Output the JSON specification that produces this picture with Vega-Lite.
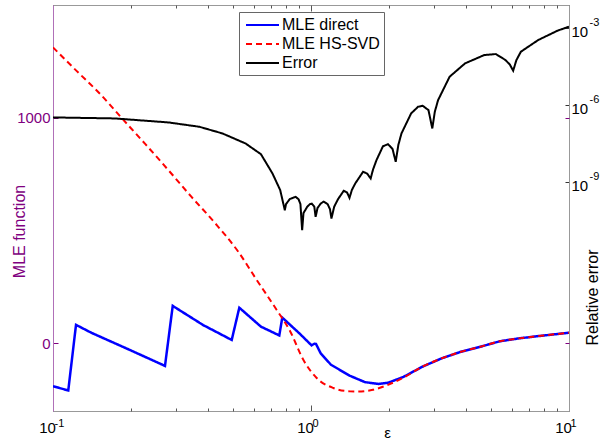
{
  "$schema": "https://vega.github.io/schema/vega-lite/v6.json",
  "autosize": {"type": "none"},
  "padding": {"left": 53, "top": 5, "right": 34, "bottom": 34},
  "width": 516,
  "height": 406,
  "background": "white",
  "config": {
    "font": "Liberation Sans",
    "view": {"stroke": "#999", "strokeWidth": 1},
    "axis": {
      "grid": false,
      "labelFont": "Liberation Sans",
      "titleFont": "Liberation Sans",
      "labelFontSize": 15,
      "titleFontSize": 16,
      "titleFontWeight": "normal",
      "labelColor": "black",
      "titleColor": "black",
      "tickColor": "#555",
      "domainColor": "#999"
    }
  },
  "datasets": {
    "direct": [
      {"eps": 0.1, "value": -190, "series": "MLE direct"},
      {"eps": 0.1146, "value": -209, "series": "MLE direct"},
      {"eps": 0.1228, "value": 82, "series": "MLE direct"},
      {"eps": 0.1413, "value": 46, "series": "MLE direct"},
      {"eps": 0.1921, "value": -22, "series": "MLE direct"},
      {"eps": 0.2717, "value": -100, "series": "MLE direct"},
      {"eps": 0.2911, "value": 166, "series": "MLE direct"},
      {"eps": 0.382, "value": 81, "series": "MLE direct"},
      {"eps": 0.4928, "value": 15, "series": "MLE direct"},
      {"eps": 0.5274, "value": 158, "series": "MLE direct"},
      {"eps": 0.6397, "value": 74, "series": "MLE direct"},
      {"eps": 0.7536, "value": 35, "series": "MLE direct"},
      {"eps": 0.7739, "value": 114, "series": "MLE direct"},
      {"eps": 0.902, "value": 44, "series": "MLE direct"},
      {"eps": 1.005, "value": -9, "series": "MLE direct"},
      {"eps": 1.03, "value": -2, "series": "MLE direct"},
      {"eps": 1.046, "value": -3, "series": "MLE direct"},
      {"eps": 1.09, "value": -44, "series": "MLE direct"},
      {"eps": 1.195, "value": -95, "series": "MLE direct"},
      {"eps": 1.416, "value": -144, "series": "MLE direct"},
      {"eps": 1.618, "value": -172, "series": "MLE direct"},
      {"eps": 1.825, "value": -180, "series": "MLE direct"},
      {"eps": 1.988, "value": -175, "series": "MLE direct"},
      {"eps": 2.281, "value": -149, "series": "MLE direct"},
      {"eps": 2.709, "value": -103, "series": "MLE direct"},
      {"eps": 3.218, "value": -66, "series": "MLE direct"},
      {"eps": 3.821, "value": -37, "series": "MLE direct"},
      {"eps": 4.537, "value": -15, "series": "MLE direct"},
      {"eps": 5.387, "value": 9, "series": "MLE direct"},
      {"eps": 6.397, "value": 22, "series": "MLE direct"},
      {"eps": 7.597, "value": 32, "series": "MLE direct"},
      {"eps": 10, "value": 47, "series": "MLE direct"}
    ],
    "hssvd": [
      {"eps": 0.1, "value": 1312, "series": "MLE HS-SVD"},
      {"eps": 0.1231, "value": 1209, "series": "MLE HS-SVD"},
      {"eps": 0.151, "value": 1110, "series": "MLE HS-SVD"},
      {"eps": 0.1856, "value": 996, "series": "MLE HS-SVD"},
      {"eps": 0.2281, "value": 883, "series": "MLE HS-SVD"},
      {"eps": 0.2804, "value": 767, "series": "MLE HS-SVD"},
      {"eps": 0.3443, "value": 649, "series": "MLE HS-SVD"},
      {"eps": 0.4233, "value": 535, "series": "MLE HS-SVD"},
      {"eps": 0.5226, "value": 406, "series": "MLE HS-SVD"},
      {"eps": 0.616, "value": 281, "series": "MLE HS-SVD"},
      {"eps": 0.7365, "value": 148, "series": "MLE HS-SVD"},
      {"eps": 0.8291, "value": 55, "series": "MLE HS-SVD"},
      {"eps": 0.9337, "value": -73, "series": "MLE HS-SVD"},
      {"eps": 1.052, "value": -154, "series": "MLE HS-SVD"},
      {"eps": 1.22, "value": -198, "series": "MLE HS-SVD"},
      {"eps": 1.416, "value": -213, "series": "MLE HS-SVD"},
      {"eps": 1.511, "value": -214, "series": "MLE HS-SVD"},
      {"eps": 1.737, "value": -206, "series": "MLE HS-SVD"},
      {"eps": 1.988, "value": -184, "series": "MLE HS-SVD"},
      {"eps": 2.281, "value": -152, "series": "MLE HS-SVD"},
      {"eps": 2.709, "value": -103, "series": "MLE HS-SVD"},
      {"eps": 3.218, "value": -66, "series": "MLE HS-SVD"},
      {"eps": 3.821, "value": -37, "series": "MLE HS-SVD"},
      {"eps": 4.537, "value": -15, "series": "MLE HS-SVD"},
      {"eps": 5.387, "value": 9, "series": "MLE HS-SVD"},
      {"eps": 6.397, "value": 22, "series": "MLE HS-SVD"},
      {"eps": 7.597, "value": 32, "series": "MLE HS-SVD"},
      {"eps": 10, "value": 47, "series": "MLE HS-SVD"}
    ],
    "err": [
      {"eps": 0.1, "err": 3.35e-7, "series": "Error"},
      {"eps": 0.1733, "err": 3.062e-7, "series": "Error"},
      {"eps": 0.2804, "err": 2.138e-7, "series": "Error"},
      {"eps": 0.3691, "err": 1.449e-7, "series": "Error"},
      {"eps": 0.4535, "err": 7.98e-8, "series": "Error"},
      {"eps": 0.5575, "err": 3.25e-8, "series": "Error"},
      {"eps": 0.6397, "err": 1.239e-8, "series": "Error"},
      {"eps": 0.7091, "err": 2.208e-9, "series": "Error"},
      {"eps": 0.7598, "err": 4.943e-10, "series": "Error"},
      {"eps": 0.7916, "err": 8.22e-11, "series": "Error"},
      {"eps": 0.8, "err": 1.413e-10, "series": "Error"},
      {"eps": 0.8278, "err": 2.239e-10, "series": "Error"},
      {"eps": 0.8715, "err": 2.723e-10, "series": "Error"},
      {"eps": 0.895, "err": 2.188e-10, "series": "Error"},
      {"eps": 0.91, "err": 1.413e-10, "series": "Error"},
      {"eps": 0.924, "err": 1.368e-11, "series": "Error"},
      {"eps": 0.935, "err": 6.31e-11, "series": "Error"},
      {"eps": 0.9663, "err": 1.109e-10, "series": "Error"},
      {"eps": 0.99, "err": 1.413e-10, "series": "Error"},
      {"eps": 1.007, "err": 1.479e-10, "series": "Error"},
      {"eps": 1.03, "err": 1.122e-10, "series": "Error"},
      {"eps": 1.042, "err": 4.529e-11, "series": "Error"},
      {"eps": 1.06, "err": 1.0e-10, "series": "Error"},
      {"eps": 1.09, "err": 1.479e-10, "series": "Error"},
      {"eps": 1.12, "err": 1.778e-10, "series": "Error"},
      {"eps": 1.16, "err": 1.413e-10, "series": "Error"},
      {"eps": 1.185, "err": 8.913e-11, "series": "Error"},
      {"eps": 1.2, "err": 3.899e-11, "series": "Error"},
      {"eps": 1.23, "err": 1.122e-10, "series": "Error"},
      {"eps": 1.272, "err": 2.188e-10, "series": "Error"},
      {"eps": 1.339, "err": 4.677e-10, "series": "Error"},
      {"eps": 1.38, "err": 3.981e-10, "series": "Error"},
      {"eps": 1.41, "err": 2.489e-10, "series": "Error"},
      {"eps": 1.44, "err": 5.012e-10, "series": "Error"},
      {"eps": 1.484, "err": 8.995e-10, "series": "Error"},
      {"eps": 1.591, "err": 2.559e-9, "series": "Error"},
      {"eps": 1.65, "err": 2.188e-9, "series": "Error"},
      {"eps": 1.703, "err": 1.409e-9, "series": "Error"},
      {"eps": 1.74, "err": 3.162e-9, "series": "Error"},
      {"eps": 1.794, "err": 7.295e-9, "series": "Error"},
      {"eps": 1.9, "err": 2.512e-8, "series": "Error"},
      {"eps": 1.988, "err": 3.062e-8, "series": "Error"},
      {"eps": 2.07, "err": 1.995e-8, "series": "Error"},
      {"eps": 2.13, "err": 6.281e-9, "series": "Error"},
      {"eps": 2.18, "err": 2.818e-8, "series": "Error"},
      {"eps": 2.242, "err": 7.98e-8, "series": "Error"},
      {"eps": 2.444, "err": 4.797e-7, "series": "Error"},
      {"eps": 2.6, "err": 8.71e-7, "series": "Error"},
      {"eps": 2.709, "err": 9.528e-7, "series": "Error"},
      {"eps": 2.853, "err": 6.457e-7, "series": "Error"},
      {"eps": 2.952, "err": 1.247e-7, "series": "Error"},
      {"eps": 3.02, "err": 5.623e-7, "series": "Error"},
      {"eps": 3.109, "err": 1.585e-6, "series": "Error"},
      {"eps": 3.446, "err": 1.285e-5, "series": "Error"},
      {"eps": 3.954, "err": 4.246e-5, "series": "Error"},
      {"eps": 4.695, "err": 8.974e-5, "series": "Error"},
      {"eps": 5.204, "err": 9.817e-5, "series": "Error"},
      {"eps": 5.672, "err": 5.728e-5, "series": "Error"},
      {"eps": 5.9, "err": 3.802e-5, "series": "Error"},
      {"eps": 6.076, "err": 2.198e-5, "series": "Error"},
      {"eps": 6.25, "err": 5.623e-5, "series": "Error"},
      {"eps": 6.508, "err": 1.208e-4, "series": "Error"},
      {"eps": 7.597, "err": 3.443e-4, "series": "Error"},
      {"eps": 9.02, "err": 7.943e-4, "series": "Error"},
      {"eps": 10, "err": 1.138e-3, "series": "Error"}
    ]
  },
  "layer": [
    {
      "data": {"name": "direct"},
      "mark": {"type": "line", "strokeWidth": 2.5, "clip": true},
      "encoding": {
        "x": {
          "field": "eps", "type": "quantitative",
          "scale": {"type": "log", "domain": [0.1, 10], "nice": false},
          "axis": {
            "orient": "bottom", "values": [0.1, 1, 10],
            "labelExpr": "'10'", "labelOffset": -6,
            "tickSize": -6, "labelPadding": 15, "labelFlush": false,
            "title": "ε", "titleX": 334, "titleY": 26, "titleAlign": "center",
            "titleBaseline": "alphabetic", "titleFontSize": 15
          }
        },
        "y": {
          "field": "value", "type": "quantitative",
          "scale": {"domain": [-300, 1500], "nice": false, "zero": false},
          "axis": {
            "orient": "left", "values": [0, 1000], "format": "d",
            "tickSize": -5, "labelPadding": 8, "tickColor": "#800080",
            "labelColor": "#800080", "domainColor": "#b070b8",
            "title": "MLE function", "titleColor": "#800080",
            "titleAngle": 270, "titleX": -34, "titleY": 226,
            "titleAlign": "center", "titleBaseline": "middle"
          }
        },
        "color": {
          "field": "series", "type": "nominal",
          "scale": {"domain": ["MLE direct", "MLE HS-SVD", "Error"], "range": ["#0000ff", "#ff0000", "#000000"]},
          "legend": {
            "orient": "none", "legendX": 186, "legendY": 7, "title": null,
            "symbolType": "M-0.75,0H3.375", "symbolSize": 256, "symbolStrokeWidth": 2,
            "symbolFillColor": "transparent",
            "labelFontSize": 16, "labelFont": "Liberation Sans", "labelColor": "black",
            "labelOffset": 21, "rowPadding": 2, "padding": 4,
            "fillColor": "white", "strokeColor": "#666"
          }
        },
        "strokeDash": {
          "field": "series", "type": "nominal",
          "scale": {"domain": ["MLE direct", "MLE HS-SVD", "Error"], "range": [[1, 0], [6, 4], [1, 0]]},
          "legend": {
            "orient": "none", "legendX": 186, "legendY": 7, "title": null,
            "symbolType": "M-0.75,0H3.375", "symbolSize": 256, "symbolStrokeWidth": 2,
            "symbolFillColor": "transparent",
            "labelFontSize": 16, "labelFont": "Liberation Sans", "labelColor": "black",
            "labelOffset": 21, "rowPadding": 2, "padding": 4,
            "fillColor": "white", "strokeColor": "#666"
          }
        }
      }
    },
    {
      "data": {"name": "hssvd"},
      "mark": {"type": "line", "strokeWidth": 2, "interpolate": "monotone", "clip": true},
      "encoding": {
        "x": {
          "field": "eps", "type": "quantitative",
          "scale": {"type": "log", "domain": [0.1, 10], "nice": false},
          "axis": {
            "orient": "bottom", "values": [0.1, 1, 10],
            "labelExpr": "datum.value < 0.5 ? '-1' : (datum.value < 5 ? '0' : '1')",
            "ticks": false, "tickSize": 0, "domain": false, "title": null,
            "labelFontSize": 11, "labelAlign": "left", "labelBaseline": "top",
            "labelOffset": 1, "labelPadding": 6, "labelFlush": false
          }
        },
        "y": {
          "field": "value", "type": "quantitative",
          "scale": {"domain": [-300, 1500], "nice": false, "zero": false},
          "axis": null
        },
        "color": {"field": "series", "type": "nominal"},
        "strokeDash": {"field": "series", "type": "nominal"}
      }
    },
    {
      "data": {"name": "err"},
      "mark": {"type": "line", "strokeWidth": 2, "clip": true},
      "encoding": {
        "x": {
          "field": "eps", "type": "quantitative",
          "scale": {"type": "log", "domain": [0.1, 10], "nice": false},
          "axis": {
            "orient": "bottom", "values": [0.2, 0.3, 0.4, 0.5, 0.6, 0.7, 0.8, 0.9, 2, 3, 4, 5, 6, 7, 8, 9],
            "tickSize": -3, "labels": false, "domain": false, "title": null
          }
        },
        "y": {
          "field": "err", "type": "quantitative",
          "scale": {"type": "log", "domain": [1.2589e-18, 7.943e-3], "nice": false},
          "axis": {
            "orient": "right", "values": [1e-9, 1e-6, 1e-3],
            "labelExpr": "'10'",
            "tickSize": -4, "labelPadding": 6, "labelOffset": 3, "tickColor": "#333",
            "title": "Relative error", "titleAngle": 270, "titleX": 23, "titleY": 292,
            "titleAlign": "center", "titleBaseline": "middle"
          }
        },
        "color": {"field": "series", "type": "nominal"},
        "strokeDash": {"field": "series", "type": "nominal"}
      }
    },
    {
      "data": {"name": "direct"},
      "mark": {"type": "line", "strokeOpacity": 0},
      "encoding": {
        "x": {
          "field": "eps", "type": "quantitative",
          "scale": {"type": "log", "domain": [0.1, 10], "nice": false},
          "axis": {
            "orient": "top", "values": [0.2, 0.3, 0.4, 0.5, 0.6, 0.7, 0.8, 0.9, 2, 3, 4, 5, 6, 7, 8, 9],
            "tickSize": -3, "labels": false, "domain": false, "title": null
          }
        },
        "y": {
          "field": "value", "type": "quantitative",
          "scale": {"domain": [-300, 1500], "nice": false, "zero": false},
          "axis": {
            "orient": "right", "values": [0, 1000], "tickSize": -4,
            "tickColor": "#800080", "labels": false, "domain": false, "title": null
          }
        }
      }
    },
    {
      "data": {"name": "err"},
      "mark": {"type": "line", "strokeOpacity": 0},
      "encoding": {
        "x": {
          "field": "eps", "type": "quantitative",
          "scale": {"type": "log", "domain": [0.1, 10], "nice": false},
          "axis": {
            "orient": "top", "values": [0.1, 1, 10],
            "tickSize": -6, "labels": false, "domain": false, "title": null
          }
        },
        "y": {
          "field": "err", "type": "quantitative",
          "scale": {"type": "log", "domain": [1.2589e-18, 7.943e-3], "nice": false},
          "axis": {
            "orient": "right", "values": [1e-9, 1e-6, 1e-3],
            "labelExpr": "datum.value < 1e-8 ? '-9' : (datum.value < 1e-4 ? '-6' : '-3')",
            "ticks": false, "tickSize": 0, "domain": false, "title": null,
            "labelFontSize": 11, "labelPadding": 20, "labelOffset": -6,
            "labelAlign": "left", "labelBaseline": "middle"
          }
        }
      }
    }
  ],
  "resolve": {
    "scale": {"y": "independent"},
    "axis": {"x": "independent", "y": "independent"}
  }
}
